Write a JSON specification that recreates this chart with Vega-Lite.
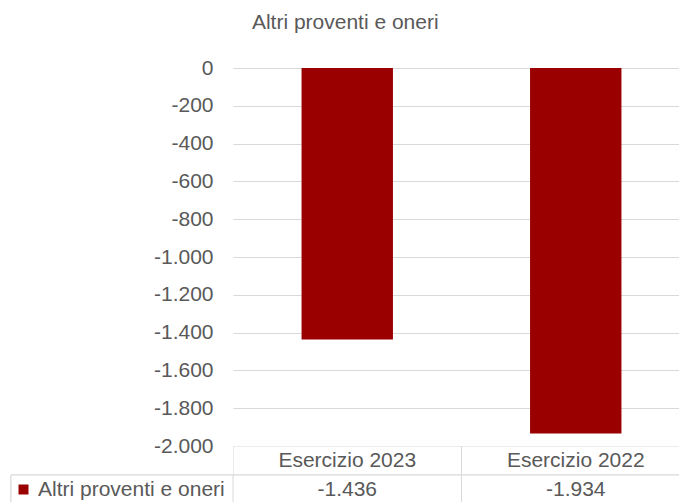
{
  "$schema": "https://vega.github.io/schema/vega-lite/v6.json",
  "padding": {"left": 10, "top": 12, "right": 0, "bottom": 0},
  "background": "white",
  "title": {"text": "Altri proventi e oneri", "fontSize": 21, "font": "Liberation Sans", "fontWeight": "normal", "color": "#595959", "anchor": "middle", "offset": 24},
  "datasets": {
    "dati": [
      {"anno": "Esercizio 2023", "valore": -1436, "serie": "Altri proventi e oneri"},
      {"anno": "Esercizio 2022", "valore": -1934, "serie": "Altri proventi e oneri"}
    ]
  },
  "data": {"name": "dati"},
  "columns": 2,
  "spacing": 0,
  "bounds": "flush",
  "concat": [
    {
      "width": 222,
      "height": 378,
      "mark": {"type": "text", "text": ""},
      "encoding": {}
    },
    {
      "width": 447,
      "height": 378,
      "mark": {"type": "bar", "width": {"band": 0.4}},
      "encoding": {
        "x": {"field": "anno", "type": "nominal", "sort": null,
          "scale": {"domain": ["Esercizio 2023", "Esercizio 2022"], "range": [0, 457], "paddingInner": 0, "paddingOuter": 0},
          "axis": null},
        "y": {"field": "valore", "type": "quantitative",
          "scale": {"domain": [-2000, 0], "nice": false},
          "axis": {"tickCount": 10, "format": ",d", "title": null, "domain": false, "ticks": false, "labelPadding": 20, "grid": true, "gridColor": "#D9D9D9", "gridWidth": 1, "labelFontSize": 21, "labelColor": "#595959", "labelFont": "Liberation Sans"}},
        "color": {"field": "serie", "type": "nominal",
          "scale": {"range": ["#9B0000"]},
          "legend": {"orient": "none", "legendX": 2, "legendY": 411, "title": null, "symbolType": "square", "symbolSize": 100, "symbolStrokeWidth": 0, "labelFontSize": 21, "labelColor": "#595959", "labelOffset": 4, "labelLimit": 400, "labelFont": "Liberation Sans"}}
      }
    },
    {
      "width": 222,
      "height": 58,
      "mark": {"type": "rect", "fill": "white", "stroke": "#D9D9D9", "strokeWidth": 1},
      "encoding": {
        "y": {"datum": "values", "type": "nominal", "scale": {"domain": ["header", "values"], "paddingInner": 0, "paddingOuter": 0}, "axis": null}
      }
    },
    {
      "width": 447,
      "height": 58,
      "encoding": {
        "x": {"field": "anno", "type": "nominal", "sort": null,
          "scale": {"domain": ["Esercizio 2023", "Esercizio 2022"], "range": [0, 457], "paddingInner": 0, "paddingOuter": 0},
          "axis": null}
      },
      "layer": [
        {
          "mark": {"type": "rect", "fill": "white", "stroke": "#D9D9D9", "strokeWidth": 1, "clip": true},
          "encoding": {"y": {"datum": "header", "type": "nominal", "scale": {"domain": ["header", "values"], "paddingInner": 0, "paddingOuter": 0}, "axis": null}}
        },
        {
          "mark": {"type": "rect", "fill": "white", "stroke": "#D9D9D9", "strokeWidth": 1, "clip": true},
          "encoding": {"y": {"datum": "values", "type": "nominal"}}
        },
        {
          "mark": {"type": "text", "fontSize": 21, "font": "Liberation Sans", "color": "#595959", "baseline": "middle"},
          "encoding": {"y": {"datum": "header", "type": "nominal"}, "text": {"field": "anno"}}
        },
        {
          "mark": {"type": "text", "fontSize": 21, "font": "Liberation Sans", "color": "#595959", "baseline": "middle"},
          "encoding": {"y": {"datum": "values", "type": "nominal"}, "text": {"field": "valore", "type": "quantitative", "format": ",d"}}
        }
      ]
    }
  ],
  "config": {
    "view": {"stroke": null},
    "font": "Liberation Sans",
    "locale": {"number": {"decimal": ",", "thousands": ".", "grouping": [3], "currency": ["€", ""], "minus": "-"}}
  }
}
